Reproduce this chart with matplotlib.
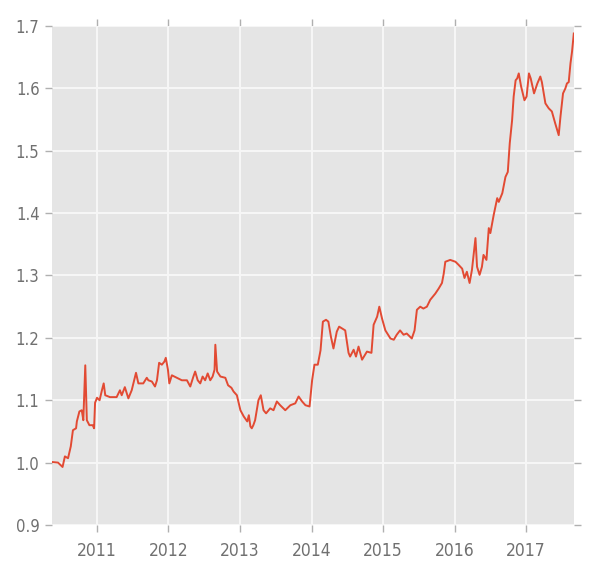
import matplotlib
matplotlib.use("Agg")
import matplotlib.pyplot as plt
import matplotlib.dates as mdates
import pandas as pd

# ── data ─────────────────────────────────────────────────────────────────────
dates = [
    "2010-05-17", "2010-06-17", "2010-07-10", "2010-07-22", "2010-08-07", "2010-08-21",
    "2010-09-01", "2010-09-17", "2010-09-21", "2010-10-04", "2010-10-16", "2010-10-24",
    "2010-11-03", "2010-11-11", "2010-11-24", "2010-12-11", "2010-12-18", "2010-12-23",
    "2011-01-02", "2011-01-15", "2011-01-27", "2011-02-05", "2011-02-13", "2011-03-09",
    "2011-04-12", "2011-04-29", "2011-05-08", "2011-05-24", "2011-06-11", "2011-06-28",
    "2011-07-20", "2011-08-01", "2011-08-26", "2011-09-13", "2011-09-21", "2011-10-09",
    "2011-10-25", "2011-11-04", "2011-11-15", "2011-11-29", "2011-12-12", "2011-12-19",
    "2011-12-30", "2012-01-06", "2012-01-19", "2012-02-14", "2012-03-10", "2012-04-05",
    "2012-04-22", "2012-05-08", "2012-05-17", "2012-05-30", "2012-06-12", "2012-06-24",
    "2012-07-07", "2012-07-20", "2012-08-02", "2012-08-14", "2012-08-24", "2012-08-28",
    "2012-09-06", "2012-09-23", "2012-10-18", "2012-11-01", "2012-11-18", "2012-11-29",
    "2012-12-16", "2013-01-03", "2013-01-20", "2013-02-07", "2013-02-15", "2013-02-23",
    "2013-03-02", "2013-03-10", "2013-03-19", "2013-04-05", "2013-04-17", "2013-05-01",
    "2013-05-14", "2013-06-04", "2013-06-21", "2013-07-08", "2013-07-25", "2013-08-20",
    "2013-09-15", "2013-10-10", "2013-10-27", "2013-11-14", "2013-12-01", "2013-12-22",
    "2014-01-04", "2014-01-16", "2014-02-02", "2014-02-16", "2014-02-28", "2014-03-16",
    "2014-03-28", "2014-04-10", "2014-04-23", "2014-05-10", "2014-05-22", "2014-06-22",
    "2014-07-09", "2014-07-17", "2014-08-04", "2014-08-16", "2014-08-29", "2014-09-16",
    "2014-10-11", "2014-11-03", "2014-11-14", "2014-12-02", "2014-12-13", "2014-12-27",
    "2015-01-13", "2015-02-08", "2015-02-25", "2015-03-12", "2015-03-29", "2015-04-16",
    "2015-05-02", "2015-05-28", "2015-06-11", "2015-06-23", "2015-07-10", "2015-07-26",
    "2015-08-13", "2015-08-30", "2015-09-25", "2015-10-12", "2015-10-29", "2015-11-07",
    "2015-11-15", "2015-12-10", "2016-01-06", "2016-01-22", "2016-02-09", "2016-02-21",
    "2016-03-04", "2016-03-18", "2016-03-30", "2016-04-17", "2016-04-25", "2016-05-08",
    "2016-05-20", "2016-05-28", "2016-06-12", "2016-06-24", "2016-07-02", "2016-07-19",
    "2016-08-06", "2016-08-14", "2016-09-01", "2016-09-17", "2016-09-29", "2016-10-09",
    "2016-10-21", "2016-10-29", "2016-11-08", "2016-11-16", "2016-11-24", "2016-12-06",
    "2016-12-23", "2017-01-03", "2017-01-15", "2017-01-24", "2017-02-10", "2017-02-27",
    "2017-03-14", "2017-03-22", "2017-04-09", "2017-04-26", "2017-05-12", "2017-05-29",
    "2017-06-16", "2017-06-25", "2017-07-08", "2017-07-20", "2017-07-28", "2017-08-06",
    "2017-08-15", "2017-08-23", "2017-09-01",
]
values = [
    1.001, 1.000, 0.993, 1.010, 1.007, 1.026,
    1.052, 1.055, 1.066, 1.082, 1.084, 1.068,
    1.156, 1.068, 1.060, 1.060, 1.055, 1.096,
    1.104, 1.100, 1.116, 1.127, 1.108, 1.105,
    1.105, 1.116, 1.108, 1.121, 1.103, 1.116,
    1.144, 1.127, 1.127, 1.136, 1.132, 1.130,
    1.122, 1.132, 1.160, 1.157, 1.162, 1.168,
    1.149, 1.127, 1.140, 1.136, 1.132, 1.132,
    1.122, 1.138, 1.146, 1.132, 1.127, 1.138,
    1.132, 1.143, 1.132, 1.138, 1.149, 1.189,
    1.146, 1.138, 1.136, 1.124, 1.120, 1.114,
    1.108, 1.084, 1.074, 1.066, 1.076, 1.058,
    1.055, 1.060, 1.068, 1.100, 1.108, 1.084,
    1.079, 1.087, 1.084, 1.098, 1.092, 1.084,
    1.092, 1.095, 1.106, 1.098, 1.092, 1.090,
    1.132, 1.157, 1.157, 1.180, 1.226, 1.229,
    1.226, 1.202, 1.183, 1.210, 1.218, 1.212,
    1.176, 1.170, 1.181, 1.170, 1.186, 1.165,
    1.178, 1.176, 1.221, 1.234, 1.250, 1.231,
    1.212, 1.199, 1.197, 1.205, 1.212, 1.205,
    1.207, 1.199, 1.212, 1.245, 1.250, 1.247,
    1.250, 1.261, 1.271, 1.279, 1.288, 1.303,
    1.322, 1.325, 1.322, 1.317, 1.311, 1.296,
    1.306, 1.288, 1.309, 1.360, 1.314, 1.301,
    1.314, 1.333, 1.325, 1.376, 1.368, 1.397,
    1.424, 1.418, 1.432, 1.458, 1.466, 1.512,
    1.549, 1.587, 1.613, 1.616, 1.624, 1.603,
    1.581, 1.587, 1.624, 1.616, 1.592, 1.608,
    1.619, 1.610, 1.576, 1.568, 1.563, 1.544,
    1.525, 1.555, 1.592, 1.600, 1.608, 1.610,
    1.640, 1.659, 1.688,
]

x = pd.to_datetime(dates)

# ── plot ─────────────────────────────────────────────────────────────────────
plt.style.use("ggplot")

fig = plt.figure(figsize=(5.94, 5.73), dpi=100)
ax = fig.add_axes([0.0875, 0.0838, 0.8785, 0.8708])

ax.plot(x, values, color="#E24A33", linewidth=1.4)

ax.set_xlim(x[0], x[-1])
ax.set_ylim(0.9, 1.7)
ax.set_yticks([0.9, 1.0, 1.1, 1.2, 1.3, 1.4, 1.5, 1.6, 1.7])
ax.xaxis.set_major_locator(mdates.YearLocator())
ax.xaxis.set_major_formatter(mdates.DateFormatter("%Y"))

ax.set_facecolor("#E5E5E5")
ax.grid(True, color="#F6F6F6", linewidth=1.5)
ax.tick_params(axis="both", which="both", direction="out", length=5, width=1,
               color="#B0B0B0", labelcolor="#707070",
               top=True, right=True, labeltop=False, labelright=False)
ax.tick_params(axis="x", labelsize=12.5, pad=7)
ax.tick_params(axis="y", labelsize=12, pad=4)
for lab in ax.get_xticklabels() + ax.get_yticklabels():
    lab.set_fontstretch("condensed")
for s in ax.spines.values():
    s.set_visible(False)

fig.savefig("out.png", dpi=100, facecolor="white")
